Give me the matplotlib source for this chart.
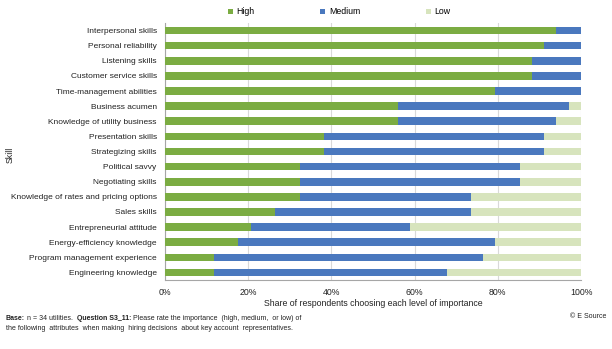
import matplotlib.pyplot as plt
import numpy as np

plt.rcParams['font.family'] = ['Liberation Sans', 'DejaVu Sans']

skills = ['Interpersonal skills', 'Personal reliability', 'Listening skills',
          'Customer service skills', 'Time-management abilities', 'Business acumen',
          'Knowledge of utility business', 'Presentation skills', 'Strategizing skills',
          'Political savvy', 'Negotiating skills', 'Knowledge of rates and pricing options',
          'Sales skills', 'Entrepreneurial attitude', 'Energy-efficiency knowledge',
          'Program management experience', 'Engineering knowledge']
# shares of respondents (%), n = 34
high = [94.1, 91.2, 88.2, 88.2, 79.4, 55.9, 55.9, 38.2, 38.2, 32.4, 32.4, 32.4, 26.5, 20.6, 17.6, 11.8, 11.8]
medium = [5.9, 8.8, 11.8, 11.8, 20.6, 41.2, 38.2, 52.9, 52.9, 52.9, 52.9, 41.2, 47.1, 38.2, 61.8, 64.7, 55.9]
low = [0.0, 0.0, 0.0, 0.0, 0.0, 2.9, 5.9, 8.8, 8.8, 14.7, 14.7, 26.5, 26.5, 41.2, 20.6, 23.5, 32.4]

c_high = '#7BAC42'
c_med = '#4A78BE'
c_low = '#D7E4BD'

fig = plt.figure(figsize=(6.12, 3.49), dpi=100)
ax = fig.add_axes([165/612, 1-280/349, 416/612, 257/349])

y = np.arange(len(skills))
h = np.array(high)
m = np.array(medium)
l = np.array(low)
ax.barh(y, h, height=0.5, color=c_high, label='High', zorder=3)
ax.barh(y, m, left=h, height=0.5, color=c_med, label='Medium', zorder=3)
ax.barh(y, l, left=h+m, height=0.5, color=c_low, label='Low', zorder=3)

ax.set_ylim(len(skills)-0.5, -0.5)
ax.set_xlim(0, 100)
ax.set_yticks(y)
ax.set_yticklabels(skills, fontsize=6, color='#222222')
ax.set_xticks([0, 20, 40, 60, 80, 100])
ax.set_xticklabels(['0%', '20%', '40%', '60%', '80%', '100%'], fontsize=6.3, color='#222222')
ax.tick_params(axis='y', length=0, pad=6)
ax.tick_params(axis='x', length=0, pad=6)
ax.grid(axis='x', color='#D9D9D9', linewidth=0.8, zorder=0)
for s in ['top', 'right']:
    ax.spines[s].set_visible(False)
for s in ['left', 'bottom']:
    ax.spines[s].set_color('#A6A6A6')
    ax.spines[s].set_linewidth(0.8)

ax.set_xlabel('Share of respondents choosing each level of importance', fontsize=6.3, labelpad=1, color='#222222')
fig.text(10/612, 1-155/349, 'Skill', rotation=90, fontsize=6.3, ha='center', va='center', color='#222222')

fig.legend(loc='center', bbox_to_anchor=(339/612, 1-12/349), ncol=3, frameon=False,
           fontsize=6.3, handlelength=0.6, handleheight=0.6, columnspacing=7.5, handletextpad=0.4)

# footnote with bold runs placed one after another
fig.canvas.draw()
r = fig.canvas.get_renderer()
def run(parts, x, yy):
    for txt, bold in parts:
        t = fig.text(x/612, 1-yy/349, txt, fontsize=5, va='center', color='#222222',
                     fontweight='bold' if bold else 'normal')
        x += t.get_window_extent(renderer=r).width
run([('Base:', True), (' n = 34 utilities.  ', False), ('Question S3_11:', True),
     (' Please rate the importance  (high, medium,  or low) of', False)], 6, 318)
run([('the following  attributes  when making  hiring decisions  about key account  representatives.', False)], 6, 329)
fig.text(606/612, 1-316/349, '© E Source', fontsize=5, ha='right', va='center', color='#222222')

fig.savefig('out.png', dpi=100)
plt.close(fig)
